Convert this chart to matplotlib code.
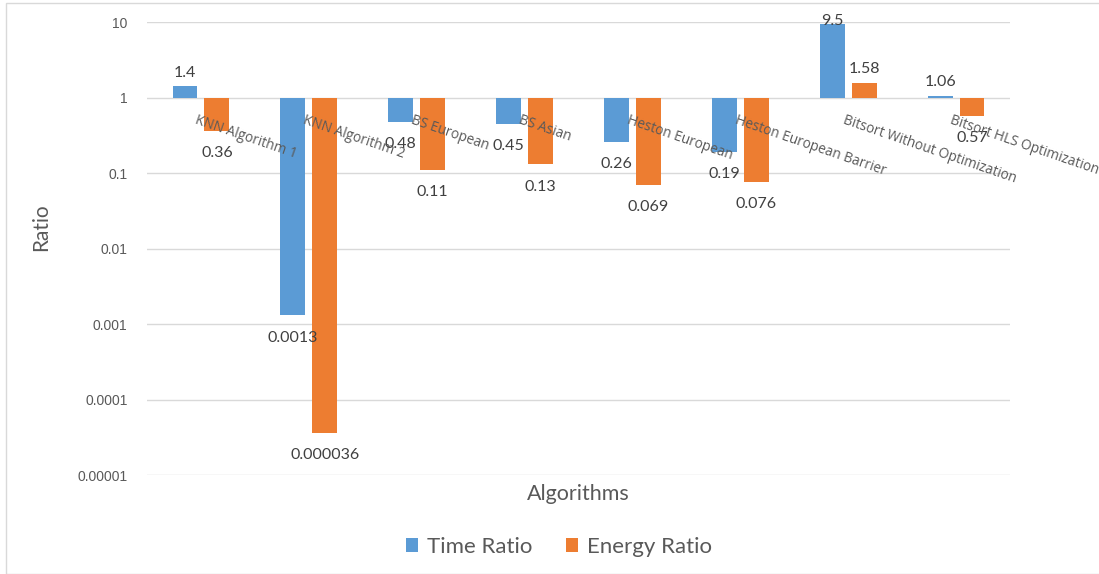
import matplotlib
matplotlib.use("Agg")
import matplotlib.pyplot as plt
import numpy as np
from matplotlib.patches import Rectangle

categories = ["KNN Algorithm 1", "KNN Algorithm 2", "BS European", "BS Asian",
              "Heston European", "Heston European Barrier",
              "Bitsort Without Optimization", "Bitsort HLS Optimization"]
time_ratio = [1.4, 0.0013, 0.48, 0.45, 0.26, 0.19, 9.5, 1.06]
energy_ratio = [0.36, 0.000036, 0.11, 0.13, 0.069, 0.076, 1.58, 0.57]
time_labels = ["1.4", "0.0013", "0.48", "0.45", "0.26", "0.19", "9.5", "1.06"]
energy_labels = ["0.36", "0.000036", "0.11", "0.13", "0.069", "0.076", "1.58", "0.57"]
yticks = [10, 1, 0.1, 0.01, 0.001, 0.0001, 0.00001]
ytick_labels = ["10", "1", "0.1", "0.01", "0.001", "0.0001", "0.00001"]

BLUE = "#5B9BD5"
ORANGE = "#ED7D31"
TXT = "#595959"
FONT = "Lato"
YMIN, YMAX = 1e-5, 10

fig = plt.figure(figsize=(10.99, 5.74), dpi=100)
fig.patches.append(Rectangle((6/1099, 0), 1.1, 1 - 3/574, transform=fig.transFigure,
                             fill=False, edgecolor="#D9D9D9", linewidth=1.0))
ax = fig.add_axes([147/1099, 1 - 475/574, (1010 - 147)/1099, (475 - 22)/574])
ax.set_yscale("log")
ax.set_ylim(YMIN, YMAX)
ax.set_xlim(-0.5, len(categories) - 0.5)

x = np.arange(len(categories))
w = 0.23
off = 0.148
tv = np.array(time_ratio)
ev = np.array(energy_ratio)
ax.bar(x - off, tv - 1, bottom=1, width=w, color=BLUE, zorder=3, label="Time Ratio")
ax.bar(x + off, ev - 1, bottom=1, width=w, color=ORANGE, zorder=3, label="Energy Ratio")

def label(xs, vals, texts):
    for xi, v, t in zip(xs, vals, texts):
        kw = dict(textcoords="offset points", ha="center", fontsize=11.5,
                  color="#404040", family=FONT, zorder=5, annotation_clip=False)
        if v >= 1:
            if v * 1.9 > YMAX:
                # Excel keeps the label inside the chart area
                ax.annotate(t, (xi, YMAX), xytext=(0, 6), va="top", **kw)
            else:
                ax.annotate(t, (xi, v), xytext=(0, 5), va="bottom", **kw)
        else:
            ax.annotate(t, (xi, v), xytext=(0, -11), va="top", **kw)

label(x - off, time_ratio, time_labels)
label(x + off, energy_ratio, energy_labels)

for xi, c in zip(x, categories):
    ax.annotate(c, (xi, 1), xytext=(-2, -11), textcoords="offset points",
                rotation=-19, rotation_mode="anchor", ha="left", va="top",
                fontsize=9.8, color=TXT, family="Open Sans", zorder=6)

ax.set_yticks(yticks)
ax.set_yticklabels(ytick_labels, family="Liberation Sans", fontsize=10, color=TXT)
ax.yaxis.set_minor_locator(matplotlib.ticker.NullLocator())
ax.tick_params(axis="y", length=0, pad=14)
ax.set_xticks([])
for s in ax.spines.values():
    s.set_visible(False)
ax.grid(axis="y", color="#D9D9D9", linewidth=1.0, zorder=0)

fig.text(41/1099, 1 - 227/574, "Ratio", rotation=90, ha="center", va="center",
         fontsize=15, color=TXT, family=FONT)
fig.text(578/1099, 1 - 494/574, "Algorithms", ha="center", va="center",
         fontsize=15.5, color=TXT, family=FONT)

handles, labels_ = ax.get_legend_handles_labels()
fig.legend(handles, labels_, loc="center", bbox_to_anchor=(559/1099, 1 - 547/574),
           ncol=2, frameon=False, handlelength=0.55, handleheight=0.55,
           handletextpad=0.4, columnspacing=1.5, labelcolor=TXT,
           prop={"family": FONT, "size": 16})

fig.savefig("out.png", dpi=100)
